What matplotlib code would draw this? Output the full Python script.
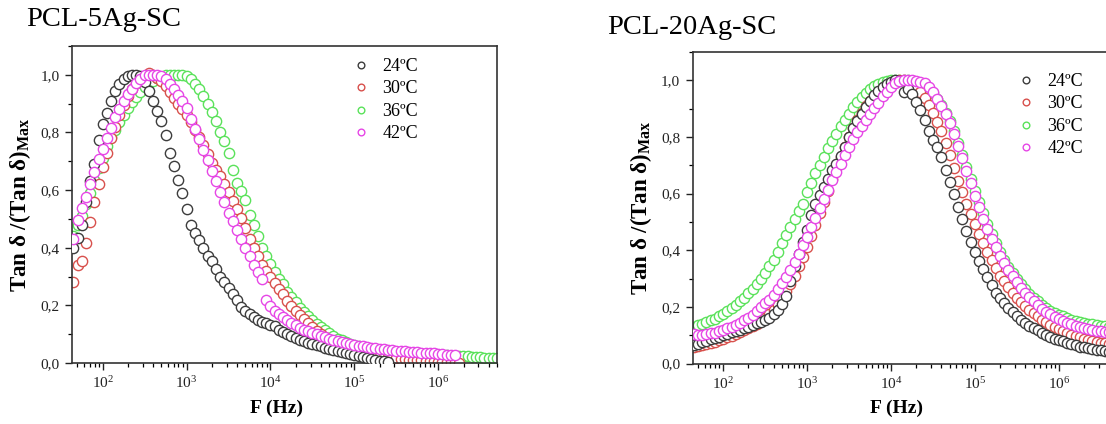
import numpy as np
import matplotlib
matplotlib.use('Agg')
import matplotlib.pyplot as plt
from matplotlib.ticker import MultipleLocator, FuncFormatter, LogLocator, NullFormatter, LogFormatterMathtext

plt.rcParams['font.family'] = ['Liberation Serif', 'DejaVu Serif']
plt.rcParams['mathtext.fontset'] = 'custom'
plt.rcParams['mathtext.rm'] = 'Liberation Serif'
plt.rcParams['mathtext.it'] = 'Liberation Serif:italic'
plt.rcParams['mathtext.bf'] = 'Liberation Serif:bold'

# ---------------- data ----------------
# shared measurement frequency grid, log10(F / Hz)
LOGF = [1.65, 1.70, 1.75, 1.80, 1.85, 1.90, 1.95, 2.00, 2.05, 2.10,
        2.15, 2.20, 2.25, 2.30, 2.35, 2.40, 2.45, 2.50, 2.55, 2.60,
        2.65, 2.70, 2.75, 2.80, 2.85, 2.90, 2.95, 3.00, 3.05, 3.10,
        3.15, 3.20, 3.25, 3.30, 3.35, 3.40, 3.45, 3.50, 3.55, 3.60,
        3.65, 3.70, 3.75, 3.80, 3.85, 3.90, 3.95, 4.00, 4.05, 4.10,
        4.15, 4.20, 4.25, 4.30, 4.35, 4.40, 4.45, 4.50, 4.55, 4.60,
        4.65, 4.70, 4.75, 4.80, 4.85, 4.90, 4.95, 5.00, 5.05, 5.10,
        5.15, 5.20, 5.25, 5.30, 5.35, 5.40, 5.45, 5.50, 5.55, 5.60,
        5.65, 5.70, 5.75, 5.80, 5.85, 5.90, 5.95, 6.00, 6.05, 6.10,
        6.15, 6.20, 6.25, 6.30, 6.35, 6.40, 6.45, 6.50, 6.55, 6.60,
        6.65, 6.70]

labels = ['24ºC', '30ºC', '36ºC', '42ºC']
titles = ['PCL-5Ag-SC', 'PCL-20Ag-SC']

# PCL-5Ag-SC (values start at LOGF[0])
a5_24 = [.40, .435, .48, .56, .63, .69, .775, .83, .866, .908,
         .945, .969, .986, .997, 1.0, 1.0, .995, .975, .945, .91,
         .875, .84, .79, .728, .685, .635, .591, .535, .48, .45,
         .427, .40, .372, .353, .325, .30, .28, .26, .24, .218,
         .196, .18, .17, .158, .148, .142, .138, .133, .127, .115,
         .107, .099, .093, .087, .081, .075, .071, .067, .062, .058,
         .053, .049, .045, .04, .037, .034, .031, .028, .024, .02,
         .017, .014, .011, .008, .006, .005]
a5_30 = [.28, .34, .355, .415, .49, .56, .62, .68, .73, .78,
         .82, .86, .895, .925, .95, .97, .985, .997, 1.005, 1.0,
         .99, .978, .96, .94, .92, .90, .88, .86, .835, .81,
         .783, .755, .725, .695, .67, .648, .62, .592, .562, .533,
         .503, .468, .43, .40, .37, .34, .32, .298, .278, .258,
         .238, .216, .198, .182, .168, .154, .14, .125, .112, .101,
         .09, .081, .074, .066, .06, .055, .05, .045, .041, .037,
         .034, .031, .028, .025, .022, .02, .018, .016, .015, .013,
         .012, .011, .01, .009, .008, .007, .006, .005, .004, .003,
         .002, .002, .001]
a5_36 = [.44, .48, .51, .55, .59, .635, .675, .71, .754, .785,
         .81, .836, .862, .884, .905, .922, .94, .958, .97, .98,
         .988, .993, .998, 1.0, 1.0, 1.0, .998, .995, .985, .969,
         .95, .925, .90, .87, .84, .80, .77, .73, .67, .626,
         .597, .566, .515, .48, .44, .40, .37, .343, .316, .29,
         .273, .248, .228, .21, .192, .176, .162, .149, .137, .125,
         .113, .103, .094, .085, .079, .072, .067, .063, .059, .055,
         .052, .049, .046, .043, .041, .039, .038, .037, .036, .035,
         .034, .033, .032, .031, .031, .03, .029, .029, .028, .027,
         .026, .025, .024, .024, .023, .022, .021, .02, .019, .018,
         .018, .017]
a5_42 = [.43, .497, .539, .575, .62, .664, .707, .742, .78, .815,
         .853, .882, .91, .934, .952, .972, .986, .998, 1.0, 1.0,
         1.0, .995, .985, .969, .95, .93, .91, .885, .848, .812,
         .776, .74, .703, .667, .631, .595, .558, .521, .492, .463,
         .432, .40, .37, .34, .315, .292, .22, .198, .182, .17,
         .16, .15, .14, .131, .122, .116, .11, .104, .099, .094,
         .089, .085, .08, .076, .072, .069, .066, .063, .06, .058,
         .055, .053, .051, .049, .047, .046, .044, .042, .041, .04,
         .039, .038, .037, .036, .035, .034, .033, .032, .031, .029,
         .028, .027]

# PCL-20Ag-SC
a20_24 = [.065, .07, .075, .08, .085, .09, .095, .10, .105, .11,
          .115, .12, .125, .13, .136, .142, .147, .153, .162, .174,
          .19, .21, .24, .29, .345, .388, .43, .47, .525, .565,
          .595, .624, .653, .683, .706, .732, .765, .80, .83, .855,
          .88, .905, .928, .947, .962, .977, .988, .995, 1.0, .998,
          .96, .968, .95, .925, .894, .86, .82, .79, .765, .729,
          .685, .64, .597, .553, .51, .468, .43, .395, .362, .335,
          .306, .276, .25, .23, .212, .196, .183, .168, .155, .143,
          .134, .125, .117, .109, .101, .095, .088, .083, .078, .073,
          .068, .064, .06, .057, .054, .051, .048, .046, .044, .042,
          .04, .039]
a20_30 = [.059, .062, .066, .069, .072, .077, .082, .087, .092, .097,
          .103, .11, .117, .124, .131, .141, .151, .162, .174, .19,
          .208, .23, .255, .282, .31, .343, .377, .413, .45, .49,
          .53, .57, .61, .65, .69, .728, .765, .80, .832, .86,
          .885, .908, .928, .945, .96, .972, .982, .99, .996, 1.0,
          1.0, .997, .99, .978, .96, .938, .912, .883, .852, .82,
          .778, .735, .69, .645, .605, .565, .529, .494, .459, .424,
          .394, .365, .338, .31, .29, .27, .25, .232, .216, .203,
          .19, .178, .167, .155, .145, .136, .128, .121, .114, .108,
          .102, .097, .092, .088, .084, .08, .077, .074, .071, .069,
          .067, .065]
a20_36 = [.129, .135, .141, .147, .152, .158, .167, .175, .185, .195,
          .207, .22, .233, .248, .264, .282, .30, .321, .343, .366,
          .393, .424, .454, .483, .512, .54, .565, .605, .638, .671,
          .70, .73, .76, .786, .81, .837, .86, .882, .905, .924,
          .94, .955, .968, .98, .988, .994, .998, 1.0, 1.0, 1.0,
          1.0, 1.0, .998, .995, .99, .98, .97, .955, .935, .912,
          .885, .855, .82, .78, .738, .695, .653, .61, .57, .53,
          .493, .458, .425, .395, .367, .342, .319, .298, .279, .262,
          .246, .232, .219, .207, .196, .187, .179, .172, .166, .16,
          .155, .151, .147, .144, .141, .138, .136, .134, .132, .13,
          .128, .127]
a20_42 = [.105, .10, .102, .104, .106, .109, .114, .119, .124, .129,
          .137, .144, .153, .162, .173, .185, .198, .212, .226, .243,
          .262, .283, .305, .33, .358, .388, .417, .448, .482, .515,
          .548, .581, .614, .647, .677, .706, .735, .765, .793, .817,
          .838, .859, .882, .902, .92, .943, .96, .978, .99, .997,
          1.0, 1.0, 1.0, .998, .995, .99, .976, .957, .934, .908,
          .88, .85, .812, .768, .724, .68, .636, .591, .553, .512,
          .476, .441, .41, .381, .355, .33, .308, .287, .268, .25,
          .234, .22, .206, .194, .183, .174, .165, .157, .15, .144,
          .138, .133, .129, .125, .122, .119, .116, .114, .112, .11,
          .108, .107]

colors = ['#3c3c3c', '#d8504c', '#5ae25a', '#e646e6']
zorders = [3, 2, 1, 4]

panels = [[a5_24, a5_30, a5_36, a5_42], [a20_24, a20_30, a20_36, a20_42]]

# ---------------- figure ----------------
W, H = 1106, 424
fig = plt.figure(figsize=(W / 100, H / 100), dpi=100)

ax_rects = [(72 / W, (H - 363) / H, 425 / W, 317 / H),
            (692.5 / W, (H - 363.5) / H, 425 / W, 311.5 / H)]
leg_pos = [(356.0 / W, 1 - 58 / H), (1021.0 / W, 1 - 73 / H)]
title_pos = [(26 / W, 1 - 20 / H), (607 / W, 1 - 28 / H)]

logf = np.array(LOGF)

for k, series in enumerate(panels):
    ax = fig.add_axes(ax_rects[k])
    handles = []
    for i, vals in enumerate(series):
        x = 10 ** logf[:len(vals)]
        h, = ax.plot(x, vals, linestyle='none', marker='o', ms=7.4, mew=1.0,
                     mfc='white', mec=colors[i], zorder=zorders[i], label=labels[i],
                     clip_on=True)
        handles.append(h)
    ax.set_xscale('log')
    ax.set_xlim(10 ** 1.634, 10 ** 6.70)
    ax.set_ylim(0, 1.1)
    ax.yaxis.set_major_locator(MultipleLocator(0.2))
    ax.yaxis.set_minor_locator(MultipleLocator(0.1))
    ax.yaxis.set_major_formatter(FuncFormatter(lambda v, p: f'{v:.1f}'.replace('.', ',')))
    ax.xaxis.set_major_locator(LogLocator(base=10, numticks=12))
    ax.xaxis.set_minor_locator(LogLocator(base=10, subs=np.arange(2, 10), numticks=12))
    ax.xaxis.set_minor_formatter(NullFormatter())
    ax.xaxis.set_major_formatter(LogFormatterMathtext())
    ax.tick_params(which='major', direction='out', length=5, width=1.0, labelsize=11,
                   colors='#222222', top=False, right=False, pad=4)
    ax.tick_params(which='minor', direction='out', length=3, width=0.9, top=False, right=False)
    for s in ax.spines.values():
        s.set_linewidth(1.2)
        s.set_color('#333333')
    ax.set_xlabel('F (Hz)', fontsize=14, fontweight='bold', labelpad=6)
    ax.xaxis.set_label_coords(0.48, -0.115)
    ax.set_ylabel('Tan δ /(Tan δ)$_{\\mathbf{Max}}$', fontsize=16.5, fontweight='bold', labelpad=5)
    ax.legend(handles=handles, loc='upper left', bbox_to_anchor=leg_pos[k],
              bbox_transform=fig.transFigure, frameon=False, fontsize=13,
              handlelength=0.6, handletextpad=0.85, labelspacing=0.3,
              markerscale=0.65, borderpad=0, borderaxespad=0)
    fig.text(title_pos[k][0], title_pos[k][1], titles[k], fontsize=20.5,
             ha='left', va='center', color='black')

fig.savefig('out.png', dpi=100)
